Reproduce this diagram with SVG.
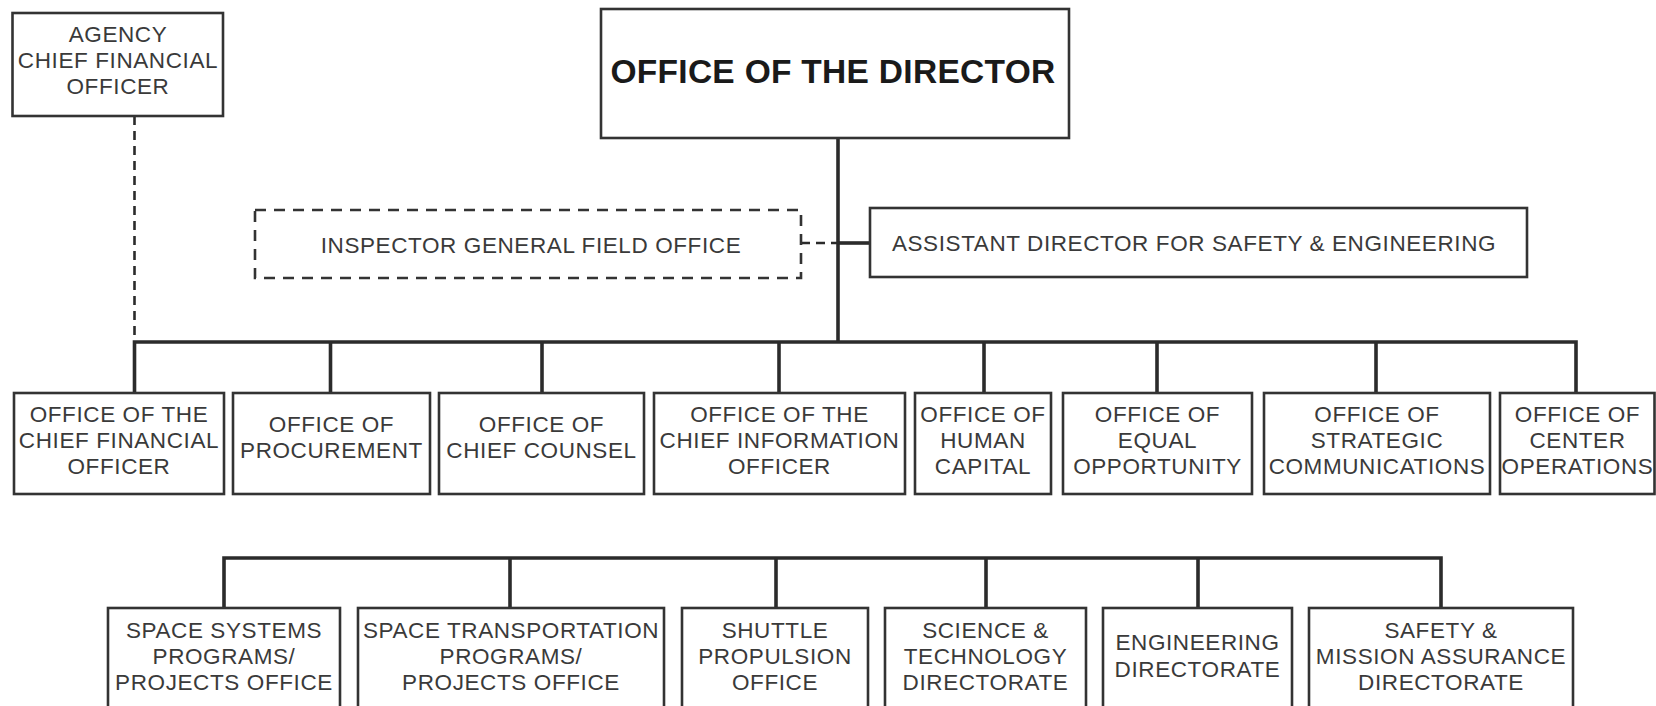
<svg xmlns="http://www.w3.org/2000/svg" width="1656" height="706" viewBox="0 0 1656 706">
<style>
  .box { fill: #ffffff; stroke: #333333; stroke-width: 2.6; }
  .dbox { fill: #ffffff; stroke: #333333; stroke-width: 2.6; stroke-dasharray: 11 8; }
  .ln { fill: none; stroke: #2b2b2b; stroke-width: 3.6; }
  .dln { fill: none; stroke: #2b2b2b; stroke-width: 2.6; stroke-dasharray: 9 6; }
  text { font-family: "Liberation Sans", Arial, sans-serif; font-size: 22.5px; letter-spacing: 0.6px; fill: #3a3a3a; text-anchor: middle; }
  .title { font-size: 33.5px; letter-spacing: 0.3px; font-weight: bold; fill: #1a1a1a; }
</style>
<rect width="1656" height="706" fill="#ffffff"/>

<g id="connectors">
  <line class="dln" x1="134.5" y1="116" x2="134.5" y2="342"/>
  <line class="ln" x1="838" y1="138" x2="838" y2="342"/>
  <line class="dln" x1="801" y1="243" x2="838" y2="243"/>
  <line class="ln" x1="838" y1="243" x2="870" y2="243"/>
  <polyline class="ln" points="134.5,393 134.5,342 1576,342 1576,393"/>
  <line class="ln" x1="330.5" y1="342" x2="330.5" y2="393"/>
  <line class="ln" x1="542" y1="342" x2="542" y2="393"/>
  <line class="ln" x1="779" y1="342" x2="779" y2="393"/>
  <line class="ln" x1="984" y1="342" x2="984" y2="393"/>
  <line class="ln" x1="1157" y1="342" x2="1157" y2="393"/>
  <line class="ln" x1="1376" y1="342" x2="1376" y2="393"/>
  <polyline class="ln" points="224,608 224,558 1441,558 1441,608"/>
  <line class="ln" x1="510" y1="558" x2="510" y2="608"/>
  <line class="ln" x1="776" y1="558" x2="776" y2="608"/>
  <line class="ln" x1="986" y1="558" x2="986" y2="608"/>
  <line class="ln" x1="1198" y1="558" x2="1198" y2="608"/>
</g>

<g id="agency-cfo">
  <rect class="box" x="12.5" y="13" width="210.5" height="103"/>
  <text x="118" y="42">AGENCY</text>
  <text x="118" y="68">CHIEF FINANCIAL</text>
  <text x="118" y="94">OFFICER</text>
</g>

<g id="director">
  <rect class="box" x="601" y="9" width="468" height="129"/>
  <text class="title" x="833" y="83">OFFICE OF THE DIRECTOR</text>
</g>

<g id="inspector-general">
  <rect class="dbox" x="255" y="210" width="546" height="68"/>
  <text x="531" y="253">INSPECTOR GENERAL FIELD OFFICE</text>
</g>

<g id="assistant-director">
  <rect class="box" x="870" y="208" width="657" height="69"/>
  <text x="1194" y="251">ASSISTANT DIRECTOR FOR SAFETY &amp; ENGINEERING</text>
</g>

<g id="ocfo">
  <rect class="box" x="14" y="393" width="210" height="101"/>
  <text x="119" y="422">OFFICE OF THE</text>
  <text x="119" y="448">CHIEF FINANCIAL</text>
  <text x="119" y="474">OFFICER</text>
</g>
<g id="procurement">
  <rect class="box" x="233" y="393" width="197" height="101"/>
  <text x="331.5" y="432">OFFICE OF</text>
  <text x="331.5" y="458">PROCUREMENT</text>
</g>
<g id="chief-counsel">
  <rect class="box" x="439" y="393" width="205" height="101"/>
  <text x="541.5" y="432">OFFICE OF</text>
  <text x="541.5" y="458">CHIEF COUNSEL</text>
</g>
<g id="ocio">
  <rect class="box" x="654" y="393" width="251" height="101"/>
  <text x="779.5" y="422">OFFICE OF THE</text>
  <text x="779.5" y="448">CHIEF INFORMATION</text>
  <text x="779.5" y="474">OFFICER</text>
</g>
<g id="human-capital">
  <rect class="box" x="915" y="393" width="136" height="101"/>
  <text x="983" y="422">OFFICE OF</text>
  <text x="983" y="448">HUMAN</text>
  <text x="983" y="474">CAPITAL</text>
</g>
<g id="equal-opportunity">
  <rect class="box" x="1063" y="393" width="189" height="101"/>
  <text x="1157.5" y="422">OFFICE OF</text>
  <text x="1157.5" y="448">EQUAL</text>
  <text x="1157.5" y="474">OPPORTUNITY</text>
</g>
<g id="strategic-communications">
  <rect class="box" x="1264" y="393" width="226" height="101"/>
  <text x="1377" y="422">OFFICE OF</text>
  <text x="1377" y="448">STRATEGIC</text>
  <text x="1377" y="474">COMMUNICATIONS</text>
</g>
<g id="center-operations">
  <rect class="box" x="1500" y="393" width="154.5" height="101"/>
  <text x="1577.5" y="422">OFFICE OF</text>
  <text x="1577.5" y="448">CENTER</text>
  <text x="1577.5" y="474">OPERATIONS</text>
</g>

<g id="space-systems">
  <rect class="box" x="108" y="608" width="232" height="112"/>
  <text x="224" y="638">SPACE SYSTEMS</text>
  <text x="224" y="664">PROGRAMS/</text>
  <text x="224" y="690">PROJECTS OFFICE</text>
</g>
<g id="space-transportation">
  <rect class="box" x="358" y="608" width="306" height="112"/>
  <text x="511" y="638">SPACE TRANSPORTATION</text>
  <text x="511" y="664">PROGRAMS/</text>
  <text x="511" y="690">PROJECTS OFFICE</text>
</g>
<g id="shuttle-propulsion">
  <rect class="box" x="682" y="608" width="186" height="112"/>
  <text x="775" y="638">SHUTTLE</text>
  <text x="775" y="664">PROPULSION</text>
  <text x="775" y="690">OFFICE</text>
</g>
<g id="science-technology">
  <rect class="box" x="885" y="608" width="201" height="112"/>
  <text x="985.5" y="638">SCIENCE &amp;</text>
  <text x="985.5" y="664">TECHNOLOGY</text>
  <text x="985.5" y="690">DIRECTORATE</text>
</g>
<g id="engineering">
  <rect class="box" x="1103" y="608" width="189" height="112"/>
  <text x="1197.5" y="650">ENGINEERING</text>
  <text x="1197.5" y="677">DIRECTORATE</text>
</g>
<g id="safety-mission-assurance">
  <rect class="box" x="1309" y="608" width="264" height="112"/>
  <text x="1441" y="638">SAFETY &amp;</text>
  <text x="1441" y="664">MISSION ASSURANCE</text>
  <text x="1441" y="690">DIRECTORATE</text>
</g>
</svg>
